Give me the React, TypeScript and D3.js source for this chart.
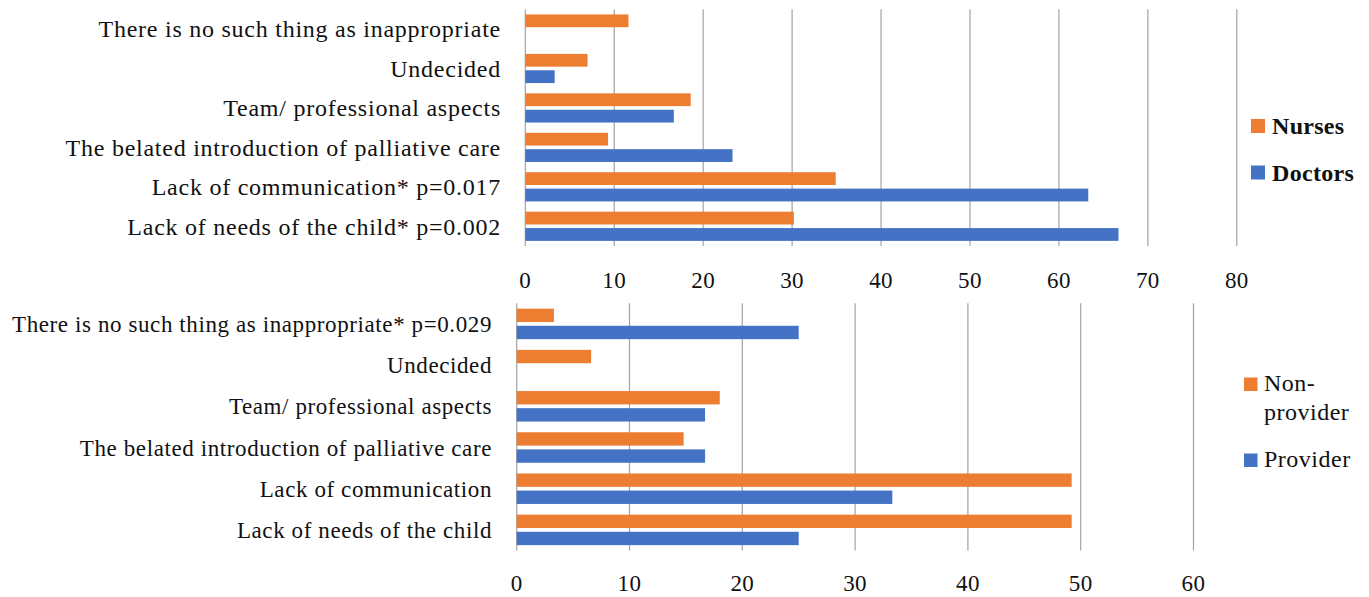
import React, { useEffect } from "react";
import * as d3 from "d3";

// Reasons for inappropriate care, % of respondents
const categoriesTop = [
  "There is no such thing as inappropriate",
  "Undecided",
  "Team/ professional aspects",
  "The belated introduction of palliative care",
  "Lack of communication* p=0.017",
  "Lack of needs of the child* p=0.002",
];
const nursesValues = [11.6, 7.0, 18.6, 9.3, 34.9, 30.2];
const doctorsValues = [0, 3.3, 16.7, 23.3, 63.3, 66.7];
const ticksTop = [0, 10, 20, 30, 40, 50, 60, 70, 80];

const categoriesBottom = [
  "There is no such thing as inappropriate* p=0.029",
  "Undecided",
  "Team/ professional aspects",
  "The belated introduction of palliative care",
  "Lack of communication",
  "Lack of needs of the child",
];
const nonProviderValues = [3.3, 6.6, 18.0, 14.8, 49.2, 49.2];
const providerValues = [25.0, 0, 16.7, 16.7, 33.3, 25.0];
const ticksBottom = [0, 10, 20, 30, 40, 50, 60];

const ORANGE = "#ED7D31";
const BLUE = "#4472C4";
const GRID = "#a3a3a3";
const FONT = "'Liberation Serif', 'Times New Roman', serif";

type Series = { key: string; values: number[]; color: string };

type PanelProps = {
  categories: string[];
  series: Series[];
  ticks: number[];
  xRange: [number, number];
  yRange: [number, number];
  labelRight: number;
  tickY: number;
  labelSize: number;
  labelSpacing: number;
};

function Panel(p: PanelProps) {
  const x = d3
    .scaleLinear()
    .domain([0, p.ticks[p.ticks.length - 1]])
    .range(p.xRange);
  const y = d3
    .scaleBand<string>()
    .domain(p.categories)
    .range(p.yRange)
    .paddingInner(0.26)
    .paddingOuter(0.13);
  const sub = d3
    .scaleBand<string>()
    .domain(p.series.map((s) => s.key))
    .range([0, y.bandwidth()])
    .paddingInner(0.22);

  return (
    <g>
      {p.ticks.map((t) => (
        <line
          key={"g" + t}
          x1={x(t)}
          x2={x(t)}
          y1={p.yRange[0]}
          y2={p.yRange[1]}
          stroke={GRID}
          strokeWidth={1.2}
        />
      ))}
      {p.categories.map((c, i) => (
        <g key={c}>
          {p.series.map((s) =>
            s.values[i] > 0 ? (
              <rect
                key={s.key}
                x={x(0)}
                y={(y(c) as number) + (sub(s.key) as number)}
                width={x(s.values[i]) - x(0)}
                height={sub.bandwidth()}
                fill={s.color}
              />
            ) : null
          )}
          <text
            x={p.labelRight}
            y={(y(c) as number) + y.bandwidth() / 2}
            dy="0.35em"
            textAnchor="end"
            fontFamily={FONT}
            fontSize={p.labelSize}
            letterSpacing={p.labelSpacing}
            fill="#111"
          >
            {c}
          </text>
        </g>
      ))}
      {p.ticks.map((t) => (
        <text
          key={"t" + t}
          x={x(t)}
          y={p.tickY}
          dy="0.35em"
          textAnchor="middle"
          fontFamily={FONT}
          fontSize={23}
          letterSpacing={0.4}
          fill="#111"
        >
          {t}
        </text>
      ))}
    </g>
  );
}

export default function App() {
  useEffect(() => {
    document.body.style.margin = "0";
  }, []);

  return (
    <svg
      width={1369}
      height={597}
      style={{ display: "block", background: "#fff" }}
      fontFamily={FONT}
    >
      <rect width={1369} height={597} fill="#fff" />
      <Panel
        categories={categoriesTop}
        series={[
          { key: "Nurses", values: nursesValues, color: ORANGE },
          { key: "Doctors", values: doctorsValues, color: BLUE },
        ]}
        ticks={ticksTop}
        xRange={[525.3, 1236.8]}
        yRange={[9.3, 246]}
        labelRight={501}
        tickY={280}
        labelSize={24}
        labelSpacing={0.75}
      />
      <Panel
        categories={categoriesBottom}
        series={[
          { key: "Non-provider", values: nonProviderValues, color: ORANGE },
          { key: "Provider", values: providerValues, color: BLUE },
        ]}
        ticks={ticksBottom}
        xRange={[516.7, 1193.5]}
        yRange={[303.3, 550.5]}
        labelRight={492}
        tickY={583}
        labelSize={23}
        labelSpacing={0.6}
      />

      {/* legend, upper chart */}
      <g fontSize={24} fontWeight="bold" fill="#111" letterSpacing={0.3}>
        <rect x={1251} y={119} width={14} height={14} fill={ORANGE} />
        <text x={1272} y={126} dy="0.35em">
          Nurses
        </text>
        <rect x={1251} y={165.5} width={14} height={14} fill={BLUE} />
        <text x={1272} y={172.5} dy="0.35em">
          Doctors
        </text>
      </g>

      {/* legend, lower chart */}
      <g fontSize={24} fill="#111" letterSpacing={0.5}>
        <rect x={1244} y={377.5} width={13.5} height={13.5} fill={ORANGE} />
        <text x={1264} y={390.7}>
          <tspan x={1264}>Non-</tspan>
          <tspan x={1264} y={420}>
            provider
          </tspan>
        </text>
        <rect x={1244} y={453.5} width={13.5} height={13.5} fill={BLUE} />
        <text x={1264} y={466.5}>
          Provider
        </text>
      </g>
    </svg>
  );
}
